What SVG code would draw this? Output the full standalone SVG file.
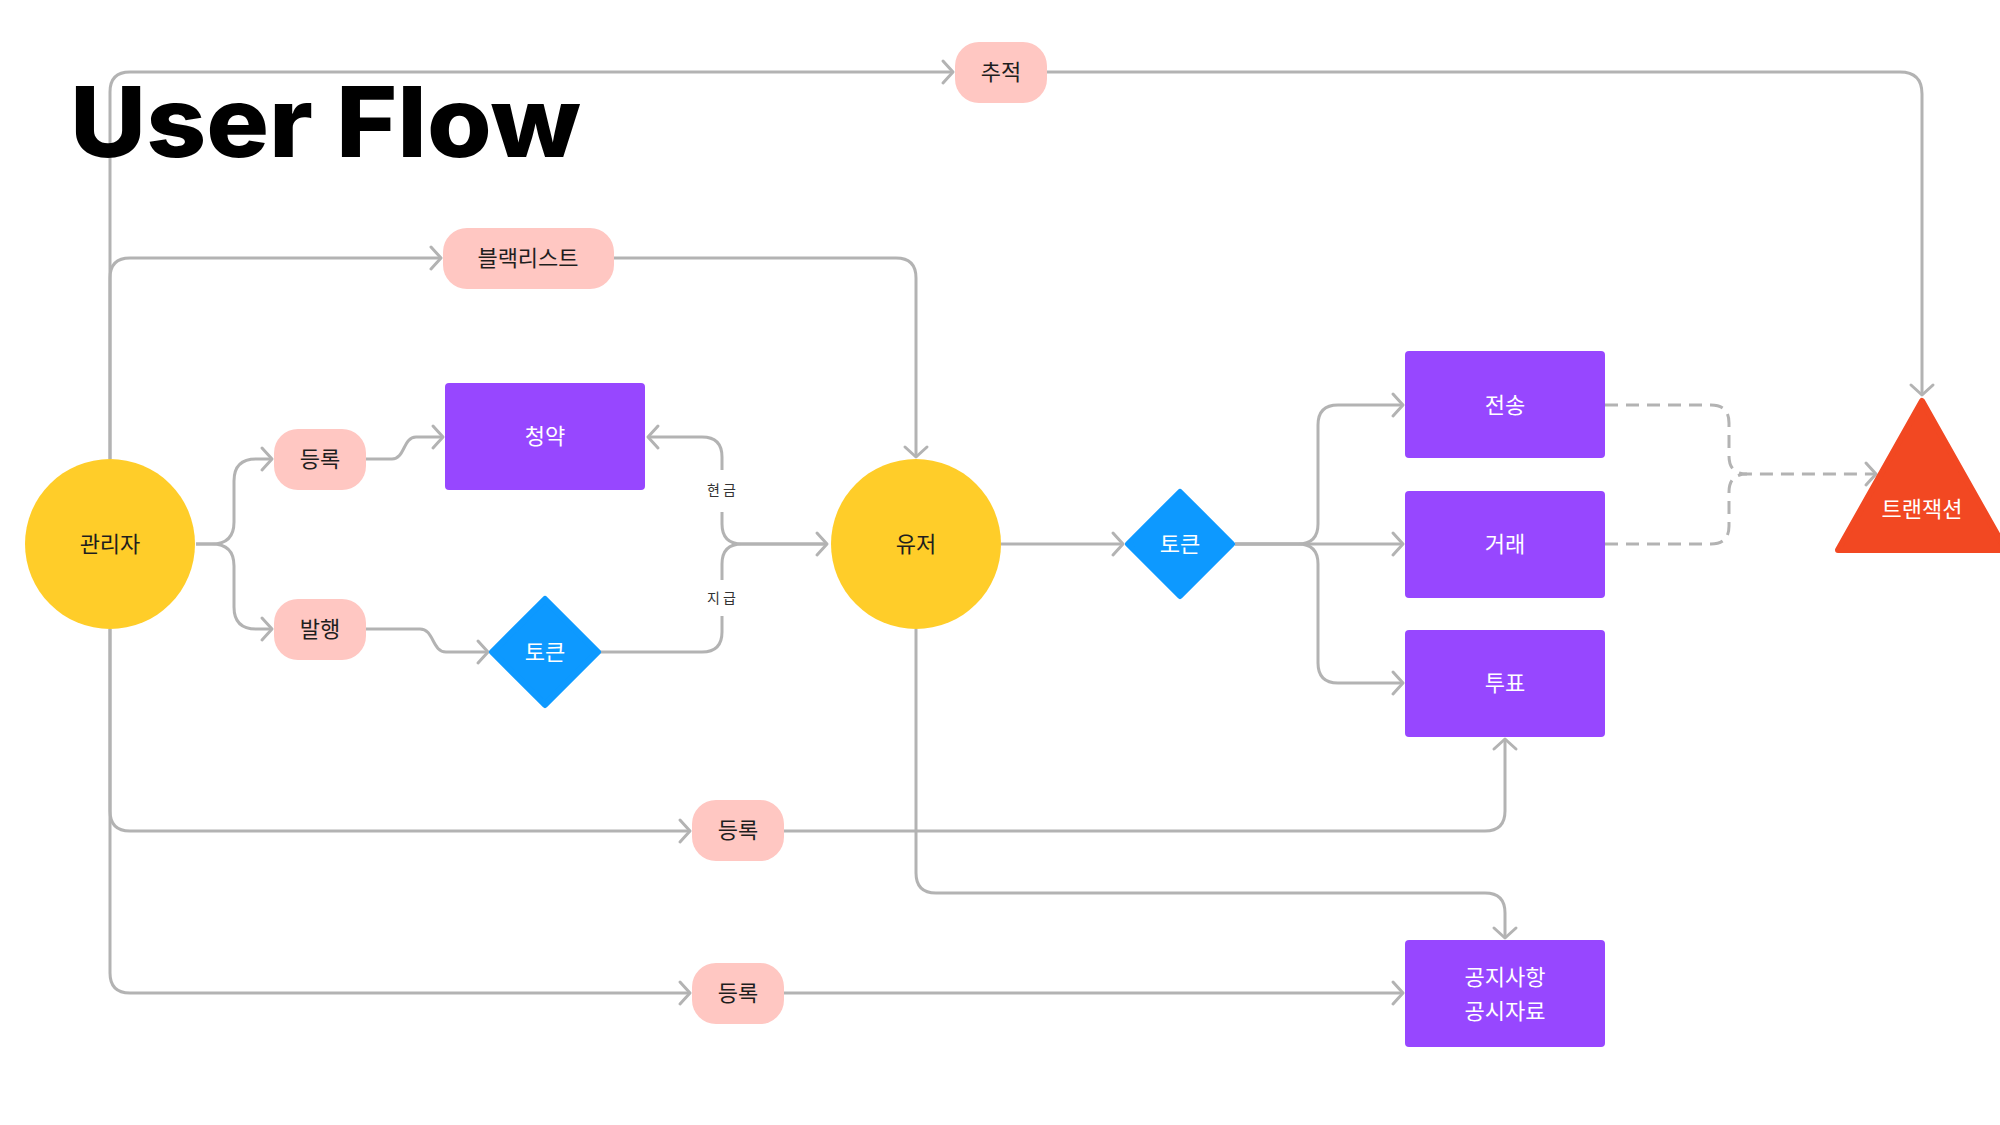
<svg xmlns="http://www.w3.org/2000/svg" width="2000" height="1125" viewBox="0 0 2000 1125">
<style>
.ln{fill:none;stroke:#B3B3B3;stroke-width:3;stroke-linejoin:round}
.ds{stroke-dasharray:13 8}
.pill{fill:#FFC7C2}
.circ{fill:#FFCD29}
.rect{fill:#9747FF}
.dia{fill:#0D99FF;stroke:#0D99FF;stroke-width:6;stroke-linejoin:round}
.tri{fill:#F24822;stroke:#F24822;stroke-width:6;stroke-linejoin:round}
.t{font-family:"Noto Sans CJK KR","Noto Sans",sans-serif;font-size:22px;text-anchor:middle;dominant-baseline:central}
.dk{fill:#1E1E1E}
.wt{fill:#FFFFFF}
.lbl{font-family:"Noto Sans CJK KR","Noto Sans",sans-serif;font-size:14px;fill:#333;text-anchor:middle;dominant-baseline:central;letter-spacing:3px}
</style>
<defs>
<marker id="arr" viewBox="-13 -13 16 26" refX="0" refY="0" markerWidth="16" markerHeight="26" markerUnits="userSpaceOnUse" orient="auto" overflow="visible">
<path d="M-10,-11 L0,0 L-10,11" fill="none" stroke="#B3B3B3" stroke-width="3" stroke-linecap="round" stroke-linejoin="round"/>
</marker>
</defs>
<rect width="2000" height="1125" fill="#FFFFFF"/>
<g id="connectors">
<path class="ln" d="M110,459 V92 Q110,72 130,72 H953" marker-end="url(#arr)"/>
<path class="ln" d="M110,459 V278 Q110,258 130,258 H441" marker-end="url(#arr)"/>
<path class="ln" d="M110,629 V811 Q110,831 130,831 H690" marker-end="url(#arr)"/>
<path class="ln" d="M110,629 V973 Q110,993 130,993 H690" marker-end="url(#arr)"/>
<path class="ln" d="M1047,72 H1900 Q1922,72 1922,94 V395" marker-end="url(#arr)"/>
<path class="ln" d="M614,258 H896 Q916,258 916,278 V457" marker-end="url(#arr)"/>
<path class="ln" d="M196,544 H212 Q234,544 234,522 V481 Q234,459 256,459 H272" marker-end="url(#arr)"/>
<path class="ln" d="M196,544 H212 Q234,544 234,566 V607 Q234,629 256,629 H272" marker-end="url(#arr)"/>
<path class="ln" d="M366,459 H392 C405,459 403,437 416,437 H443" marker-end="url(#arr)"/>
<path class="ln" d="M366,629 H420 C434,629 432,652 446,652 H488" marker-end="url(#arr)"/>
<path class="ln" d="M600,652 H702 Q722,652 722,632 V564 Q722,544 742,544 H827" marker-end="url(#arr)"/>
<path class="ln" d="M827,544 H742 Q722,544 722,524 V457 Q722,437 702,437 H648" marker-end="url(#arr)"/>
<path class="ln" d="M1001,544 H1123" marker-end="url(#arr)"/>
<path class="ln" d="M1235,544 H1298 Q1318,544 1318,524 V425 Q1318,405 1338,405 H1403" marker-end="url(#arr)"/>
<path class="ln" d="M1235,544 H1403" marker-end="url(#arr)"/>
<path class="ln" d="M1235,544 H1298 Q1318,544 1318,564 V663 Q1318,683 1338,683 H1403" marker-end="url(#arr)"/>
<path class="ln ds" d="M1605,405 H1711 Q1729,405 1729,423 V456 Q1729,474 1747,474 H1876" marker-end="url(#arr)"/>
<path class="ln ds" d="M1605,544 H1711 Q1729,544 1729,526 V492 Q1729,474 1747,474"/>
<path class="ln" d="M784,831 H1485 Q1505,831 1505,811 V739" marker-end="url(#arr)"/>
<path class="ln" d="M916,629 V873 Q916,893 936,893 H1485 Q1505,893 1505,913 V938" marker-end="url(#arr)"/>
<path class="ln" d="M784,993 H1403" marker-end="url(#arr)"/>
<rect x="704" y="470" width="36" height="42" fill="#FFFFFF"/>
<text class="lbl" x="723" y="489">현금</text>
<rect x="704" y="580" width="36" height="36" fill="#FFFFFF"/>
<text class="lbl" x="723" y="597">지급</text>
</g>
<text x="70" y="157" font-family="Inter,'Noto Sans',sans-serif" font-weight="800" font-size="98" fill="#000000" textLength="511" lengthAdjust="spacingAndGlyphs">User Flow</text>
<g id="admin"><circle class="circ" cx="110" cy="544" r="85"/><text class="t dk" x="110" y="542">관리자</text></g>
<g id="user"><circle class="circ" cx="916" cy="544" r="85"/><text class="t dk" x="916" y="542">유저</text></g>
<g id="track"><rect class="pill" x="955" y="42" width="92" height="61" rx="24"/><text class="t dk" x="1001" y="70">추적</text></g>
<g id="blacklist"><rect class="pill" x="443" y="228" width="171" height="61" rx="24"/><text class="t dk" x="528" y="256">블랙리스트</text></g>
<g id="register1"><rect class="pill" x="274" y="429" width="92" height="61" rx="24"/><text class="t dk" x="320" y="457">등록</text></g>
<g id="issue"><rect class="pill" x="274" y="599" width="92" height="61" rx="24"/><text class="t dk" x="320" y="627">발행</text></g>
<g id="register2"><rect class="pill" x="692" y="800" width="92" height="61" rx="24"/><text class="t dk" x="738" y="828">등록</text></g>
<g id="register3"><rect class="pill" x="692" y="963" width="92" height="61" rx="24"/><text class="t dk" x="738" y="991">등록</text></g>
<g id="subscription"><rect class="rect" x="445" y="383" width="200" height="107" rx="4"/><text class="t wt" x="545" y="434">청약</text></g>
<g id="token1"><polygon class="dia" points="545,599 598,652 545,705 492,652"/><text class="t wt" x="545" y="650">토큰</text></g>
<g id="token2"><polygon class="dia" points="1180,492 1232,544 1180,596 1128,544"/><text class="t wt" x="1180" y="542">토큰</text></g>
<g id="transfer"><rect class="rect" x="1405" y="351" width="200" height="107" rx="4"/><text class="t wt" x="1505" y="403">전송</text></g>
<g id="trade"><rect class="rect" x="1405" y="491" width="200" height="107" rx="4"/><text class="t wt" x="1505" y="542">거래</text></g>
<g id="vote"><rect class="rect" x="1405" y="630" width="200" height="107" rx="4"/><text class="t wt" x="1505" y="681">투표</text></g>
<g id="notice"><rect class="rect" x="1405" y="940" width="200" height="107" rx="4"/><text class="t wt" x="1505" y="975">공지사항</text><text class="t wt" x="1505" y="1009">공시자료</text></g>
<g id="transaction"><polygon class="tri" points="1922,401 2006,550 1838,550"/><text class="t wt" x="1922" y="507">트랜잭션</text></g>
</svg>
